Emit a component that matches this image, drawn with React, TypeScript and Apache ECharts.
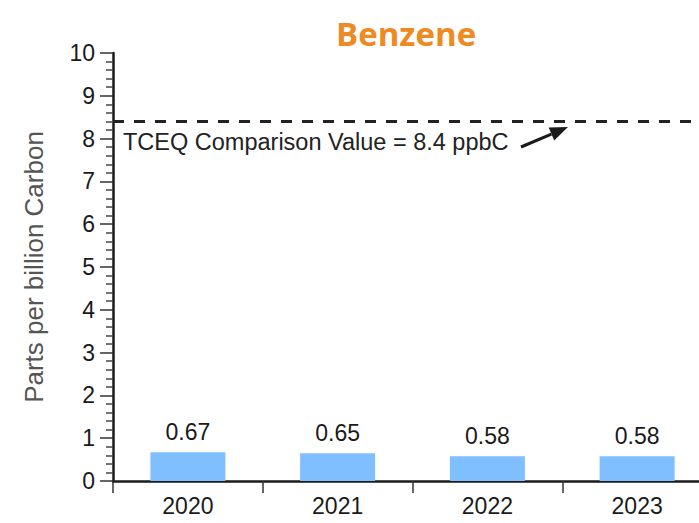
import React, { useEffect, useRef } from "react";
import * as echarts from "echarts";

const years = ["2020", "2021", "2022", "2023"];
const benzene = [0.67, 0.65, 0.58, 0.58];
const comparisonValue = 8.4;
const annotationText = "TCEQ Comparison Value = 8.4 ppbC";
const titleText = "Benzene";
const yAxisName = "Parts per billion Carbon";

export default function App() {
  const ref = useRef<HTMLDivElement>(null);
  useEffect(() => {
    if (!ref.current) return;
    document.body.style.overflow = "hidden";
    const chart = echarts.init(ref.current, null, { renderer: "svg" });
    const tip = [568, 127];
    const tail = [521, 147];
    const dx = tip[0] - tail[0];
    const dy = tip[1] - tail[1];
    const len = Math.sqrt(dx * dx + dy * dy);
    const ux = dx / len, uy = dy / len;
    const headLen = 18, halfW = 7;
    const bx = tip[0] - headLen * ux, by = tip[1] - headLen * uy;
    const nx = -uy, ny = ux;
    chart.setOption({
      animation: false,
      title: {
        text: titleText,
        left: 336,
        top: 17,
        padding: 0,
        textStyle: {
          fontFamily: "Open Sans",
          fontWeight: 700,
          fontSize: 33,
          color: "#EE8A22",
        },
      },
      grid: { left: 113, top: 53, right: 0, bottom: 42 },
      xAxis: {
        type: "category",
        data: years,
        boundaryGap: true,
        axisLine: { lineStyle: { color: "#1a1a1a", width: 2.5 } },
        axisTick: { show: true, length: 12, alignWithLabel: false, lineStyle: { color: "#333", width: 1.5 } },
        axisLabel: { fontFamily: "Liberation Sans", fontSize: 23, color: "#1a1a1a", margin: 13 },
        splitLine: { show: false },
      },
      yAxis: {
        type: "value",
        min: 0,
        max: 10,
        interval: 1,
        name: yAxisName,
        nameLocation: "middle",
        nameRotate: 90,
        nameGap: 66,
        nameTextStyle: { fontFamily: "Liberation Sans", fontSize: 26, color: "#555" },
        axisLine: { show: true, lineStyle: { color: "#1a1a1a", width: 2.5 } },
        axisTick: { show: true, length: 13, lineStyle: { color: "#333", width: 1.5 } },
        minorTick: { show: true, splitNumber: 5, length: 7, lineStyle: { color: "#444", width: 1.5 } },
        axisLabel: { fontFamily: "Liberation Sans", fontSize: 23, color: "#1a1a1a", margin: 18 },
        splitLine: { show: false },
        minorSplitLine: { show: false },
      },
      series: [
        {
          type: "bar",
          data: benzene,
          barWidth: 75,
          itemStyle: { color: "#7FBFFF" },
          label: {
            show: true,
            position: "top",
            distance: 9,
            fontFamily: "Liberation Sans",
            fontSize: 23,
            color: "#1a1a1a",
          },
          markLine: {
            silent: true,
            symbol: "none",
            label: { show: false },
            lineStyle: { color: "#222", width: 3, type: [11, 10] },
            data: [{ yAxis: comparisonValue }],
          },
        },
      ],
      graphic: [
        {
          type: "text",
          x: 123,
          y: 130,
          style: {
            text: annotationText,
            fontFamily: "Liberation Sans",
            fontSize: 23.5,
            fill: "#222",
            verticalAlign: "top",
          },
        },
        {
          type: "line",
          shape: { x1: tail[0], y1: tail[1], x2: bx, y2: by },
          style: { stroke: "#1a1a1a", lineWidth: 3 },
        },
        {
          type: "polygon",
          shape: {
            points: [
              [tip[0], tip[1]],
              [bx + halfW * nx, by + halfW * ny],
              [bx - halfW * nx, by - halfW * ny],
            ],
          },
          style: { fill: "#1a1a1a" },
        },
      ],
    });
    return () => chart.dispose();
  }, []);
  return (
    <div
      ref={ref}
      style={{ position: "fixed", left: 0, top: 0, width: 712, height: 523, background: "#fff" }}
    />
  );
}
